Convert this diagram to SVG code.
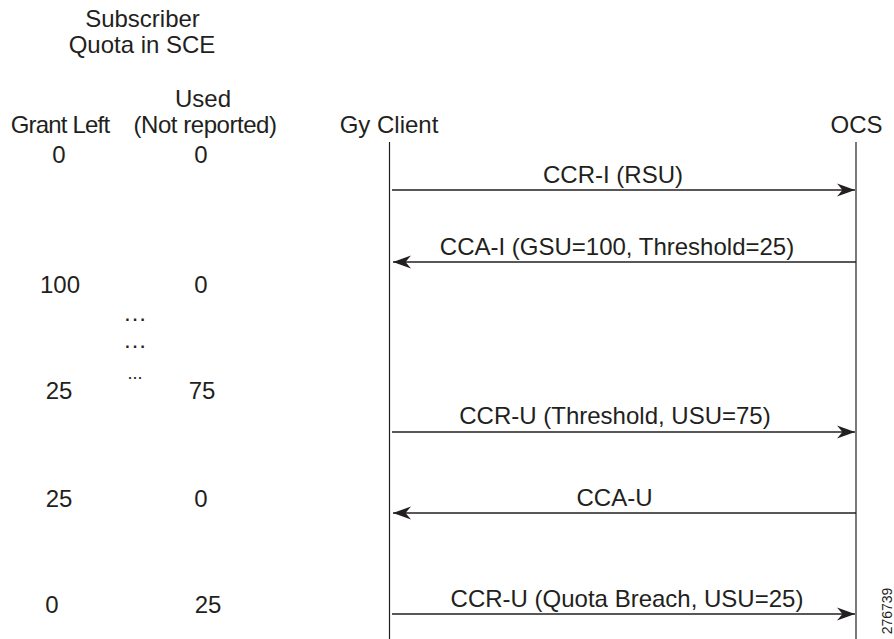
<svg xmlns="http://www.w3.org/2000/svg" width="894" height="639" viewBox="0 0 894 639">
  <style>
    text { font-family: "Liberation Sans", Arial, Helvetica, sans-serif; fill: #231f20; font-size: 24px; }
    .c { text-anchor: middle; }
    .life { stroke: #231f20; stroke-width: 1.2; fill: none; }
    .msg { stroke: #231f20; stroke-width: 1.6; fill: none; marker-end: url(#arr); }
    .id { font-size: 14px; }
  </style>
  <defs>
    <marker id="arr" viewBox="-18 -7 19 14" refX="0" refY="0" markerWidth="19" markerHeight="14" markerUnits="userSpaceOnUse" orient="auto">
      <path d="M0,0 L-18,-6.5 L-12.5,0 L-18,6.5 Z" fill="#231f20"/>
    </marker>
  </defs>
  <rect width="894" height="639" fill="#ffffff"/>

  <g id="quota-table">
    <text class="c" x="142.5" y="27">Subscriber</text>
    <text class="c" x="142" y="53">Quota in SCE</text>
    <text class="c" x="203" y="107">Used</text>
    <text class="c" x="60" y="133" style="letter-spacing:-0.8px">Grant Left</text>
    <text class="c" x="205" y="133" style="letter-spacing:-0.45px">(Not reported)</text>
    <text class="c" x="59" y="163">0</text>
    <text class="c" x="201" y="163">0</text>
    <text class="c" x="60" y="293">100</text>
    <text class="c" x="201" y="293">0</text>
    <text class="c" x="135" y="321">…</text>
    <text class="c" x="135" y="348">…</text>
    <text class="c" x="135" y="379" style="font-size:18px">...</text>
    <text class="c" x="59" y="399">25</text>
    <text class="c" x="202" y="399">75</text>
    <text class="c" x="59" y="507">25</text>
    <text class="c" x="201" y="507">0</text>
    <text class="c" x="52" y="613">0</text>
    <text class="c" x="208" y="613">25</text>
  </g>

  <g id="gy-client">
    <text class="c" x="389" y="133">Gy Client</text>
    <line class="life" x1="389.5" y1="142" x2="389.5" y2="639"/>
  </g>

  <g id="ocs">
    <text class="c" x="856.5" y="133">OCS</text>
    <line class="life" x1="856" y1="142" x2="856" y2="639"/>
  </g>

  <g id="connectors">
    <line class="msg" x1="392" y1="190" x2="855" y2="190"/>
    <text class="c" x="613" y="183">CCR-I (RSU)</text>
    <line class="msg" x1="856" y1="262" x2="393" y2="262"/>
    <text class="c" x="617" y="255">CCA-I (GSU=100, Threshold=25)</text>
    <line class="msg" x1="392" y1="432" x2="855" y2="432"/>
    <text class="c" x="615" y="424">CCR-U (Threshold, USU=75)</text>
    <line class="msg" x1="856" y1="513" x2="393" y2="513"/>
    <text class="c" x="614.5" y="506">CCA-U</text>
    <line class="msg" x1="392" y1="614" x2="855" y2="614"/>
    <text class="c" x="627" y="607">CCR-U (Quota Breach, USU=25)</text>
  </g>

  <text class="id c" transform="translate(892 611) rotate(-90)">276739</text>
</svg>
